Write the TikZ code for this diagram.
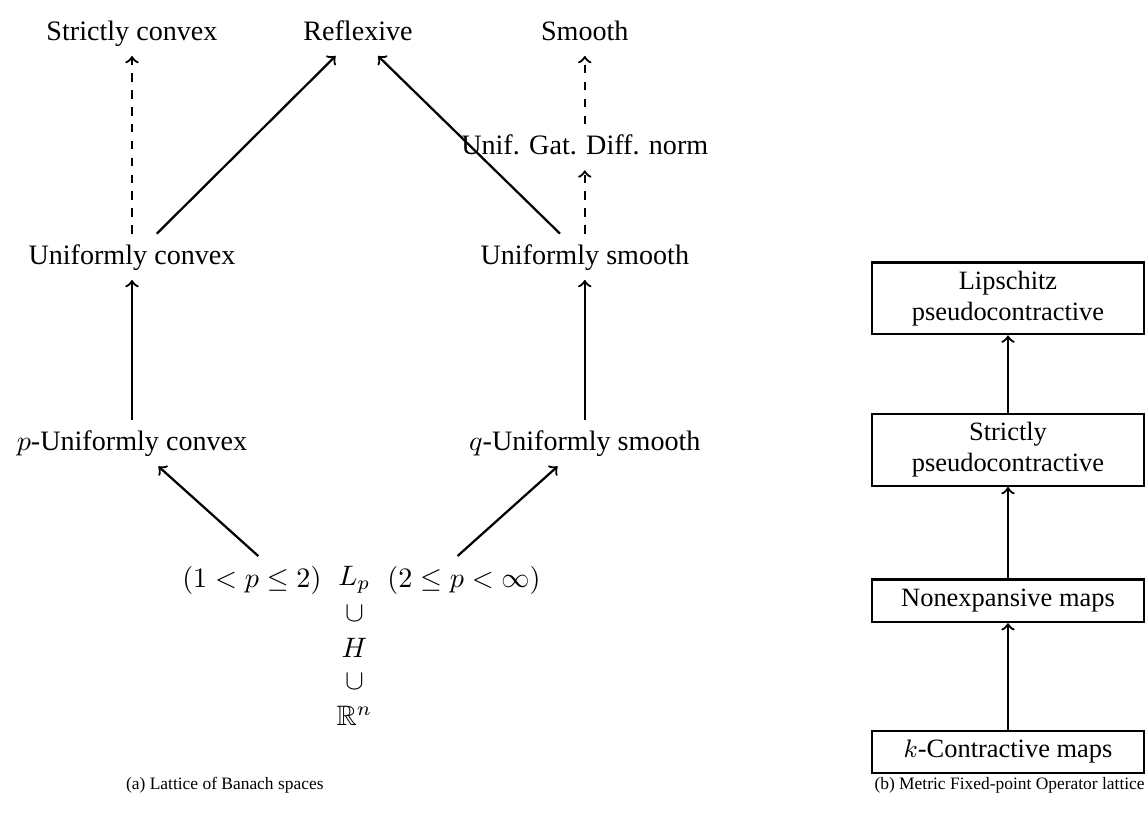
\documentclass[tikz,border=0pt]{standalone}
\usepackage[no-math]{fontspec}
\setmainfont{Liberation Serif}
\usepackage{amssymb}
\usetikzlibrary{positioning}

\tikzset{
	spc/.style = {text height=1.6ex, text depth=0.45ex},
	incl/.style = {minimum height=0.41cm, inner sep=0pt},
	opbox/.style = {draw, thick, minimum width=3.4cm, minimum height=0.53cm, inner ysep=3pt, align=center, font=\fontsize{9.4}{11}\selectfont},
	imp/.style = {->, thick},
	weak/.style = {->, thick, dashed},
	subcap/.style = {font=\fontsize{6.2}{7.5}\selectfont}
}

\begin{document}
\begin{tikzpicture}
		\useasboundingbox (0,0) rectangle (14.3125,-10.15);

		\node[spc] (SC) at (1.65,-0.41) {Strictly convex};
		\node[spc] (REF) at (4.475,-0.41) {Reflexive};
		\node[spc] (SM) at (7.31,-0.41) {Smooth};
		\node[spc] (UGD) at (7.31,-1.84) {Unif. Gat. Diff. norm};
		\node[spc] (UC) at (1.65,-3.21) {Uniformly convex};
		\node[spc] (US) at (7.31,-3.21) {Uniformly smooth};
		\node[spc] (PUC) at (1.65,-5.54) {$p$-Uniformly convex};
		\node[spc] (QUS) at (7.31,-5.54) {$q$-Uniformly smooth};

		\node[incl] (LP) at (4.43,-7.25) {$L_p$};
		\node[left=0.08cm of LP] (PL) {$(1<p\leq 2)$};
		\node[right=0.08cm of LP] (PR) {$(2\leq p<\infty)$};
		\node[incl, below=0pt of LP] (CUPA) {$\cup$};
		\node[incl, below=0pt of CUPA] (HS) {$H$};
		\node[incl, below=0pt of HS] (CUPB) {$\cup$};
		\node[incl, below=0pt of CUPB] (RN) {$\mathbb{R}^n$};

		\draw[weak] (UC) -- (SC);
		\draw[imp] ([xshift=0.31cm]UC.north) -- ([xshift=-0.28cm]REF.south);
		\draw[imp] ([xshift=-0.31cm]US.north) -- ([xshift=0.25cm]REF.south);
		\draw[weak] (US) -- (UGD);
		\draw[weak] (UGD) -- (SM);
		\draw[imp] (PUC) -- (UC);
		\draw[imp] (QUS) -- (US);
		\draw[imp] ([xshift=0.08cm]PL.north) -- ([xshift=0.33cm]PUC.south);
		\draw[imp] ([xshift=-0.08cm]PR.north) -- ([xshift=-0.34cm]QUS.south);

		\node[opbox] (LIP) at (12.6,-3.73) {Lipschitz\\pseudocontractive};
		\node[opbox] (SPC) at (12.6,-5.625) {Strictly\\pseudocontractive};
		\node[opbox] (NEX) at (12.6,-7.51) {Nonexpansive maps};
		\node[opbox] (KCM) at (12.6,-9.4) {$k$-Contractive maps};
		\draw[imp] (KCM) -- (NEX);
		\draw[imp] (NEX) -- (SPC);
		\draw[imp] (SPC) -- (LIP);

		\node[subcap] (CAPA) at (2.81,-9.81) {(a) Lattice of Banach spaces};
		\node[subcap] (CAPB) at (12.62,-9.81) {(b) Metric Fixed-point Operator lattice};
	\end{tikzpicture}
\end{document}
